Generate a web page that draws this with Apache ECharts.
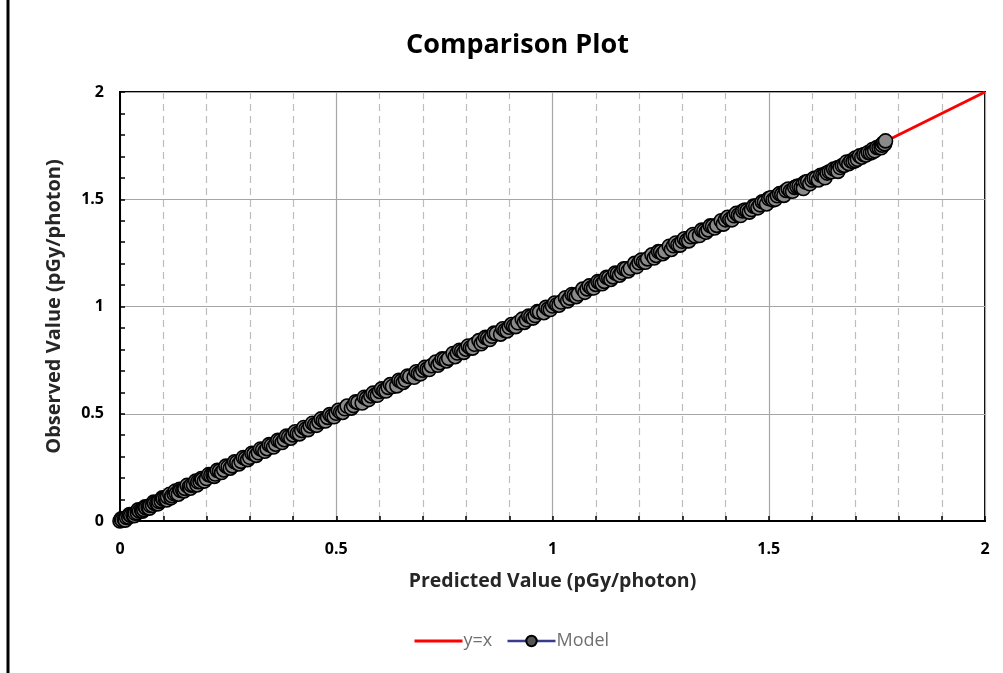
<!DOCTYPE html>
<html>
<head>
<meta charset="utf-8">
<script src="https://cdn.jsdelivr.net/npm/echarts@6/dist/echarts.min.js"></script>
<style>
html,body{margin:0;padding:0;background:#fff;}
#chart{width:1003px;height:673px;}
</style>
</head>
<body>
<div id="chart"></div>
<script>
// ---- data ----
var titleText = 'Comparison Plot';
var xAxisName = 'Predicted Value (pGy/photon)';
var yAxisName = 'Observed Value (pGy/photon)';
var seriesNames = ['y=x', 'Model'];
var refLineX = [0, 2];
var refLineY = [0, 2];
var predicted = [
 0.000,0.005,0.010,0.015,0.020,0.025,0.030,0.035,0.040,0.045,0.050,0.055,0.060,0.065,0.070,0.075,0.080,0.085,0.090,0.095,
 0.100,0.105,0.110,0.120,0.125,0.130,0.140,0.145,0.150,0.160,0.165,0.170,0.180,0.185,0.190,0.200,0.210,0.215,0.220,0.230,
 0.240,0.250,0.260,0.270,0.280,0.290,0.300,0.310,0.320,0.330,0.340,0.350,0.360,0.370,0.380,0.390,0.400,0.410,0.420,0.430,
 0.440,0.450,0.460,0.470,0.480,0.490,0.500,0.510,0.520,0.540,0.550,0.570,0.580,0.590,0.600,0.610,0.620,0.630,0.650,0.660,
 0.670,0.690,0.700,0.710,0.720,0.740,0.750,0.760,0.780,0.790,0.800,0.810,0.820,0.840,0.850,0.860,0.870,0.890,0.900,0.910,
 0.920,0.940,0.950,0.960,0.970,0.990,1.000,1.010,1.020,1.040,1.050,1.060,1.080,1.090,1.100,1.110,1.120,1.130,1.140,1.150,
 1.160,1.170,1.180,1.200,1.210,1.220,1.240,1.250,1.260,1.280,1.290,1.300,1.310,1.320,1.330,1.350,1.360,1.370,1.380,1.400,
 1.410,1.420,1.430,1.440,1.450,1.460,1.470,1.480,1.490,1.500,1.510,1.520,1.530,1.540,1.550,1.560,1.570,1.580,1.580,1.590,
 1.600,1.610,1.620,1.630,1.630,1.640,1.650,1.660,1.660,1.670,1.680,1.690,1.700,1.700,1.710,1.720,1.730,1.740,1.740,1.750,
 1.760,1.760,1.765,1.770
];
var observed = [
 0.000,0.004,0.008,0.016,0.018,0.026,0.028,0.036,0.038,0.046,0.049,0.053,0.061,0.063,0.072,0.073,0.082,0.083,0.091,0.094,
 0.102,0.103,0.112,0.118,0.127,0.128,0.142,0.143,0.152,0.158,0.167,0.168,0.183,0.184,0.192,0.198,0.213,0.214,0.219,0.233,
 0.238,0.252,0.257,0.273,0.278,0.292,0.297,0.313,0.318,0.332,0.337,0.352,0.358,0.373,0.379,0.392,0.401,0.408,0.422,0.429,
 0.443,0.449,0.462,0.468,0.483,0.489,0.502,0.507,0.523,0.538,0.553,0.572,0.583,0.587,0.604,0.608,0.623,0.627,0.652,0.657,
 0.673,0.688,0.703,0.708,0.724,0.738,0.754,0.758,0.783,0.792,0.801,0.808,0.824,0.838,0.853,0.861,0.874,0.888,0.903,0.909,
 0.924,0.938,0.952,0.958,0.974,0.988,1.002,1.008,1.021,1.039,1.052,1.058,1.082,1.087,1.103,1.112,1.117,1.134,1.138,1.153,
 1.158,1.176,1.178,1.204,1.207,1.222,1.238,1.255,1.257,1.283,1.287,1.304,1.307,1.325,1.328,1.352,1.357,1.374,1.378,1.404,
 1.406,1.423,1.426,1.445,1.447,1.452,1.468,1.474,1.487,1.503,1.497,1.516,1.522,1.541,1.538,1.555,1.561,1.572,1.550,1.583,
 1.589,1.598,1.612,1.617,1.600,1.628,1.641,1.648,1.630,1.657,1.674,1.678,1.692,1.680,1.702,1.708,1.718,1.732,1.720,1.741,
 1.752,1.740,1.762,1.772
];
var predictedB = [
 0.003,0.012,0.022,0.033,0.042,0.052,0.058,0.068,0.078,0.088,0.098,0.108,0.115,0.118,0.128,0.135,0.138,0.148,0.155,0.163,
 0.175,0.178,0.188,0.195,0.205,0.218,0.225,0.235,0.245,0.255,0.265,0.275,0.285,0.295,0.305,0.315,0.325,0.335,0.345,0.355,
 0.365,0.375,0.385,0.395,0.405,0.415,0.425,0.435,0.445,0.455,0.465,0.475,0.485,0.495,0.505,0.515,0.525,0.535,0.545,0.560,
 0.565,0.575,0.585,0.595,0.605,0.615,0.625,0.640,0.645,0.655,0.665,0.680,0.685,0.695,0.705,0.715,0.730,0.735,0.745,0.755,
 0.770,0.775,0.785,0.795,0.805,0.815,0.830,0.835,0.845,0.855,0.865,0.880,0.885,0.895,0.905,0.915,0.930,0.935,0.945,0.955,
 0.965,0.980,0.985,0.995,1.005,1.015,1.030,1.035,1.045,1.055,1.070,1.075,1.085,1.095,1.105,1.115,1.125,1.135,1.145,1.155,
 1.165,1.175,1.190,1.195,1.205,1.215,1.230,1.235,1.245,1.255,1.270,1.275,1.285,1.295,1.305,1.315,1.325,1.340,1.345,1.355,
 1.365,1.375,1.390,1.395,1.405,1.415,1.425,1.435,1.445,1.455,1.465,1.475,1.485,1.495,1.505,1.515,1.525,1.535,1.545,1.555,
 1.565,1.575,1.585,1.595,1.605,1.615,1.625,1.635,1.645,1.655,1.665,1.675,1.685,1.695,1.705,1.715,1.725,1.735,1.745,1.755,
 1.762,1.768
];
var observedB = [
 0.010,0.004,0.030,0.025,0.052,0.046,0.066,0.060,0.088,0.080,0.108,0.098,0.125,0.108,0.140,0.125,0.148,0.140,0.166,0.153,
 0.186,0.168,0.198,0.186,0.216,0.208,0.236,0.226,0.256,0.246,0.276,0.266,0.296,0.286,0.316,0.306,0.336,0.325,0.356,0.345,
 0.376,0.366,0.396,0.386,0.416,0.406,0.436,0.426,0.456,0.446,0.476,0.466,0.496,0.486,0.516,0.506,0.536,0.526,0.556,0.550,
 0.577,0.566,0.596,0.586,0.616,0.606,0.636,0.630,0.656,0.646,0.676,0.670,0.696,0.686,0.716,0.706,0.741,0.726,0.756,0.746,
 0.781,0.766,0.796,0.786,0.816,0.806,0.841,0.826,0.856,0.846,0.876,0.871,0.896,0.886,0.916,0.906,0.941,0.926,0.956,0.946,
 0.976,0.971,0.996,0.986,1.016,1.006,1.041,1.026,1.056,1.046,1.081,1.066,1.096,1.086,1.116,1.106,1.136,1.126,1.156,1.146,
 1.176,1.166,1.201,1.186,1.216,1.206,1.241,1.226,1.256,1.246,1.281,1.266,1.296,1.286,1.316,1.306,1.336,1.331,1.356,1.346,
 1.376,1.366,1.400,1.384,1.416,1.404,1.434,1.424,1.450,1.440,1.468,1.460,1.488,1.478,1.507,1.500,1.526,1.518,1.548,1.537,
 1.560,1.555,1.580,1.572,1.598,1.590,1.612,1.622,1.628,1.640,1.648,1.658,1.666,1.676,1.686,1.696,1.706,1.716,1.726,1.740,
 1.752,1.758
];
var xTicks = [0, 0.5, 1, 1.5, 2];
var yTicks = [0, 0.5, 1, 1.5, 2];

// ---- chart ----
var modelData = predicted.map(function (x, i) { return [x, observed[i]]; })
  .concat(predictedB.map(function (x, i) { return [x, observedB[i]]; }))
  .sort(function (a, b) { return a[0] - b[0]; });
var refData = refLineX.map(function (x, i) { return [x, refLineY[i]]; });
var FONT = '"Open Sans", "Noto Sans", sans-serif';

var chart = echarts.init(document.getElementById('chart'), null, {renderer: 'canvas'});
var axisCommon = function (name, ticks, gap, minorSplit, nameSize) {
  return {
    type: 'value',
    min: ticks[0],
    max: ticks[ticks.length - 1],
    interval: ticks[1] - ticks[0],
    name: name,
    nameLocation: 'middle',
    nameGap: gap,
    nameTextStyle: {fontFamily: FONT, fontWeight: 'bold', fontSize: nameSize, color: '#262626'},
    axisLine: {show: true, lineStyle: {color: '#000', width: 2}},
    axisTick: {show: true, inside: true, length: 5, lineStyle: {color: '#000', width: 1.5}},
    minorTick: {show: true, splitNumber: 5, length: 5, lineStyle: {color: '#000', width: 1.5}},
    axisLabel: {fontFamily: FONT, fontWeight: 'bold', fontSize: 16, color: '#000', margin: 20},
    splitLine: {show: true, lineStyle: {color: '#a6a6a6', width: 1.2}},
    minorSplitLine: {show: minorSplit, lineStyle: {color: '#bdbdbd', width: 1.2, type: [7, 5]}}
  };
};
var xAx = axisCommon(xAxisName, xTicks, 50, true, 19.5);
var yAx = axisCommon(yAxisName, yTicks, 56, false, 20);
yAx.axisLabel.margin = 16;

chart.setOption({
  backgroundColor: '#fff',
  animation: false,
  title: {
    text: titleText, left: 401, top: 27,
    textStyle: {fontFamily: FONT, fontWeight: 'bold', fontSize: 27, color: '#000'}
  },
  grid: {left: 120, right: 18, top: 92, bottom: 152, show: true, borderColor: '#000', borderWidth: 2, backgroundColor: 'transparent'},
  legend: {
    bottom: 18, left: 408, itemGap: 14, itemWidth: 48, itemHeight: 13,
    textStyle: {fontFamily: FONT, fontSize: 18, color: '#707070', padding: [0, 0, 0, -4]},
    data: [
      {name: seriesNames[0], lineStyle: {color: '#ff0000', width: 3, opacity: 1}, itemStyle: {opacity: 0}},
      {name: seriesNames[1], lineStyle: {color: '#3b3b8c', width: 2.5, opacity: 1}, itemStyle: {color: '#555', borderColor: '#000', borderWidth: 2}}
    ]
  },
  xAxis: xAx,
  yAxis: yAx,
  series: [
    {
      name: seriesNames[0], type: 'line', data: refData, symbol: 'none', z: 2,
      lineStyle: {color: '#ff0000', width: 3}, itemStyle: {color: '#ff0000'}
    },
    {
      name: seriesNames[1], type: 'line', data: modelData, z: 3,
      symbol: 'circle', symbolSize: 14, showSymbol: true, showAllSymbol: true,
      lineStyle: {width: 0, opacity: 0},
      itemStyle: {color: '#8a8a8a', borderColor: '#000', borderWidth: 1.6}
    }
  ],
  graphic: [
    {type: 'line', shape: {x1: 8, y1: 0, x2: 8, y2: 673}, style: {stroke: '#000', lineWidth: 3}, silent: true}
  ]
});
</script>
</body>
</html>
